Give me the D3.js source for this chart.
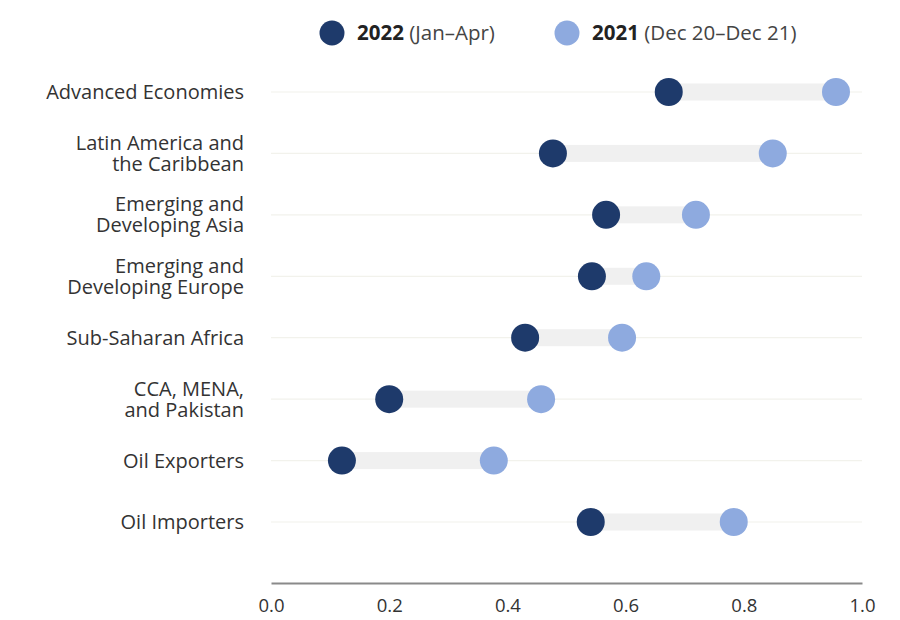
<!DOCTYPE html>
<html>
<head>
<meta charset="utf-8">
<script src="https://cdn.jsdelivr.net/npm/d3@7"></script>
<style>
	body { margin: 0; background: #fff; }
	svg { display: block; font-family: "Open Sans", Lato, sans-serif; }
</style>
</head>
<body>
<svg id="chart" width="900" height="620"></svg>
<script>
const regions = [
	["Advanced Economies"],
	["Latin America and", "the Caribbean"],
	["Emerging and", "Developing Asia"],
	["Emerging and", "Developing Europe"],
	["Sub-Saharan Africa"],
	["CCA, MENA,", "and Pakistan"],
	["Oil Exporters"],
	["Oil Importers"]
];
const val2022 = [0.673, 0.477, 0.567, 0.543, 0.430, 0.200, 0.120, 0.541];
const val2021 = [0.956, 0.849, 0.719, 0.635, 0.594, 0.457, 0.377, 0.783];
const xTicks = [0, 0.2, 0.4, 0.6, 0.8, 1.0];

const dark = "#1e3a6b", light = "#8eaadf";

const svg = d3.select("#chart");
const x = d3.scaleLinear().domain([0, 1]).range([271, 862]);
const y = d3.scalePoint().domain(d3.range(regions.length)).range([92, 522]);

// faint row guides
svg.append("g").selectAll("line").data(regions).join("line")
	.attr("x1", x(0)).attr("x2", x(1))
	.attr("y1", (d, i) => y(i)).attr("y2", (d, i) => y(i))
	.attr("stroke", "#f2f2ec").attr("stroke-width", 1.2);

// connector bars
svg.append("g").selectAll("rect").data(regions).join("rect")
	.attr("x", (d, i) => x(Math.min(val2022[i], val2021[i])))
	.attr("width", (d, i) => Math.abs(x(val2021[i]) - x(val2022[i])))
	.attr("y", (d, i) => y(i) - 8.5)
	.attr("height", 17)
	.attr("fill", "#f0f0f0");

svg.append("g").selectAll("circle").data(val2021).join("circle")
	.attr("cx", d => x(d)).attr("cy", (d, i) => y(i)).attr("r", 14)
	.attr("fill", light);

svg.append("g").selectAll("circle").data(val2022).join("circle")
	.attr("cx", d => x(d)).attr("cy", (d, i) => y(i)).attr("r", 14)
	.attr("fill", dark);

// category labels, one text per line
const labG = svg.append("g").attr("font-size", "20px").attr("fill", "#333").attr("text-anchor", "end");
regions.forEach((lines, i) => {
	const y0 = y(i) - (lines.length - 1) * 10.5;
	lines.forEach((ln, k) => {
		labG.append("text").attr("x", 244).attr("y", y0 + k * 21).attr("dy", "0.35em").text(ln);
	});
});

// x axis
const axis = svg.append("g").attr("transform", "translate(0,583)")
	.call(d3.axisBottom(x).tickValues(xTicks).tickFormat(d3.format(".1f")).tickSize(0).tickPadding(16));
axis.select(".domain").attr("stroke", "#8a8a8a").attr("stroke-width", 2);
axis.selectAll("text").attr("font-size", "18.5px").attr("fill", "#333").attr("font-family", "'Open Sans', sans-serif");

// legend
const legend = [
	{ c: dark, bold: "2022", rest: " (Jan\u2013Apr)", cx: 332 },
	{ c: light, bold: "2021", rest: " (Dec 20\u2013Dec 21)", cx: 567 }
];
const lg = svg.append("g").selectAll("g").data(legend).join("g");
lg.append("circle").attr("cx", d => d.cx).attr("cy", 33).attr("r", 12.5).attr("fill", d => d.c);
const lt = lg.append("text").attr("x", d => d.cx + 25).attr("y", 33).attr("dy", "0.35em")
	.attr("font-size", "20.5px").attr("fill", "#222");
lt.append("tspan").attr("font-weight", "bold").text(d => d.bold);
lt.append("tspan").attr("fill", "#444").text(d => d.rest);
</script>
</body>
</html>
